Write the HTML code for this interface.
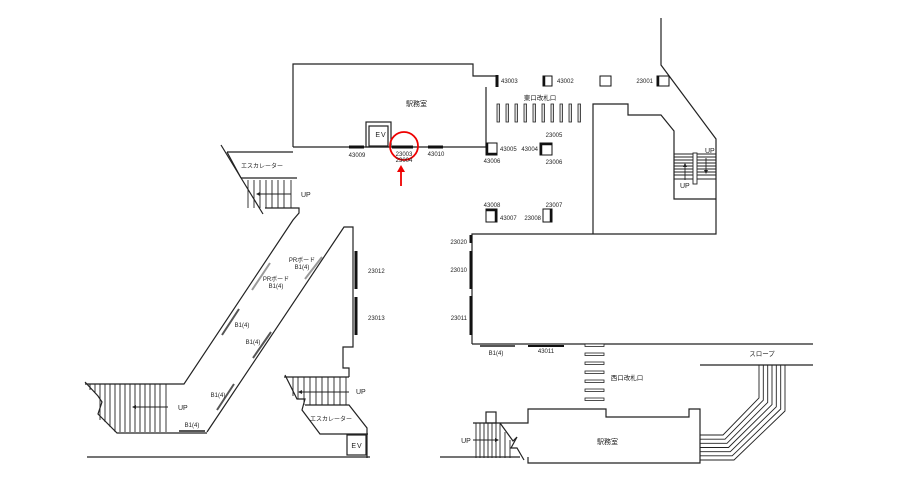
<!DOCTYPE html>
<html><head><meta charset="utf-8"><style>
html,body{margin:0;padding:0;background:#fff;}
svg{display:block;}
text{font-family:"Liberation Sans","Noto Sans CJK JP",sans-serif;fill:#222;}
</style></head><body>
<svg width="919" height="491" viewBox="0 0 919 491" xmlns="http://www.w3.org/2000/svg">
<g fill="none" stroke="#222" stroke-width="1.2">
<polyline points="293,147 293,64 473,64 473,76 497,76"/>
<polyline points="486,87 486,147 293,147"/>
<rect x="366" y="122" width="25" height="25"/>
<rect x="369" y="126" width="19" height="20"/>
<line x1="221" y1="145" x2="263" y2="214"/>
<line x1="227" y1="152" x2="293" y2="152"/>
<line x1="241" y1="178" x2="297" y2="178"/>
<line x1="227" y1="152" x2="241" y2="178"/>
<polyline points="265,208 299,208 299,213 293,220 184,384 85,384"/>
<polyline points="207,432 344,227 353,227 353,347 343,347 343,368 349,368 349,377"/>
<polyline points="85,382 98,396 102,402 98,414 117,433 207,433"/>
<polyline points="284,377 349,377"/>
<polyline points="285,375 297,399 305,399 302,410 320,434 368,434"/>
<polyline points="305,405 349,405 367,428 367,458"/>
<rect x="347" y="435" width="19" height="20"/>
<line x1="87" y1="457" x2="370" y2="457"/>
<polyline points="472,344 472,234 716,234 716,139 661,65 661,18"/>
<line x1="472" y1="344" x2="813" y2="344"/>
<polyline points="593,234 593,104 628,104 628,115 661,115 674,131 674,199 716,199"/>
<line x1="700" y1="365" x2="813" y2="365"/>
<polyline points="473,423 528,423 528,409 606,409 606,417 689,417 689,409 700,409 700,463 528,463 528,457"/>
<line x1="440" y1="457" x2="520" y2="457"/>
<rect x="486" y="412" width="10" height="11"/>
<polyline points="500,423 513,441 517,437 511,448 517,448 524,460"/>
</g>
<g fill="none" stroke="#222" stroke-width="0.9">
<polyline points="759,365 759,398 723,435 700,435"/>
<polyline points="763.3,365 763.3,400.2 725,439.2 700,439.2"/>
<polyline points="767.7,365 767.7,402.4 727,443.3 700,443.3"/>
<polyline points="772,365 772,404.6 728.5,447.5 700,447.5"/>
<polyline points="776.3,365 776.3,406.8 730.3,451.7 700,451.7"/>
<polyline points="780.7,365 780.7,409 732.2,455.8 700,455.8"/>
<polyline points="785,365 785,411 734,460 700,460"/>
</g>
<g stroke="#222" stroke-width="0.9">
<line x1="248" y1="180" x2="248" y2="208"/><line x1="254" y1="180" x2="254" y2="208"/><line x1="260" y1="180" x2="260" y2="208"/><line x1="266" y1="180" x2="266" y2="208"/><line x1="272" y1="180" x2="272" y2="208"/><line x1="278" y1="180" x2="278" y2="208"/><line x1="284" y1="180" x2="284" y2="208"/><line x1="291" y1="180" x2="291" y2="208"/>
<line x1="90" y1="384" x2="90" y2="390"/><line x1="95" y1="384" x2="95" y2="393"/><line x1="100" y1="384" x2="100" y2="420"/><line x1="105" y1="384" x2="105" y2="422"/><line x1="110" y1="384" x2="110" y2="427"/><line x1="115" y1="384" x2="115" y2="432"/><line x1="120" y1="384" x2="120" y2="432"/><line x1="125" y1="384" x2="125" y2="432"/><line x1="130" y1="384" x2="130" y2="432"/><line x1="135" y1="384" x2="135" y2="432"/><line x1="140" y1="384" x2="140" y2="432"/><line x1="145" y1="384" x2="145" y2="432"/><line x1="150" y1="384" x2="150" y2="432"/><line x1="155" y1="384" x2="155" y2="432"/><line x1="160" y1="384" x2="160" y2="432"/><line x1="166" y1="384" x2="166" y2="432"/>
<line x1="293" y1="377" x2="293" y2="396"/><line x1="298" y1="377" x2="298" y2="399"/><line x1="304" y1="377" x2="304" y2="405"/><line x1="310" y1="377" x2="310" y2="405"/><line x1="316" y1="377" x2="316" y2="405"/><line x1="322" y1="377" x2="322" y2="405"/><line x1="328" y1="377" x2="328" y2="405"/><line x1="334" y1="377" x2="334" y2="405"/><line x1="340" y1="377" x2="340" y2="405"/><line x1="346" y1="377" x2="346" y2="405"/>
<line x1="476" y1="423" x2="476" y2="458"/><line x1="480" y1="423" x2="480" y2="458"/><line x1="484" y1="423" x2="484" y2="458"/><line x1="488" y1="423" x2="488" y2="458"/><line x1="492" y1="423" x2="492" y2="458"/><line x1="496" y1="423" x2="496" y2="458"/><line x1="500" y1="423" x2="500" y2="458"/><line x1="505" y1="432" x2="505" y2="458"/><line x1="510" y1="440" x2="510" y2="458"/>
<line x1="674" y1="154" x2="716" y2="154"/><line x1="674" y1="157" x2="716" y2="157"/><line x1="674" y1="160" x2="716" y2="160"/><line x1="674" y1="163" x2="716" y2="163"/><line x1="674" y1="166" x2="716" y2="166"/><line x1="674" y1="169" x2="716" y2="169"/><line x1="674" y1="172" x2="716" y2="172"/><line x1="674" y1="175" x2="716" y2="175"/><line x1="674" y1="179" x2="716" y2="179"/>
<line x1="291" y1="194" x2="258" y2="194"/><line x1="168" y1="407" x2="134" y2="407"/><line x1="349" y1="392" x2="300" y2="392"/><line x1="473" y1="440" x2="497" y2="440"/>
<line x1="685" y1="180" x2="685" y2="165"/><line x1="706" y1="158" x2="706" y2="172"/>
</g>
<rect x="693" y="153" width="4" height="31" fill="#fff" stroke="#222" stroke-width="0.9"/>
<g fill="#222">
<polygon points="256,194 260,192 260,196"/><polygon points="132,407 136,405 136,409"/><polygon points="298,392 302,390 302,394"/><polygon points="499,440 495,438 495,442"/>
<polygon points="685,163 683,167 687,167"/><polygon points="706,174 704,170 708,170"/>
</g>
<g stroke="#111" stroke-width="3">
<line x1="497" y1="75" x2="497" y2="87"/>
<line x1="349" y1="147" x2="364" y2="147"/><line x1="392" y1="147" x2="413" y2="147"/><line x1="428" y1="147" x2="443" y2="147"/>
<line x1="356" y1="251" x2="356" y2="289"/><line x1="356" y1="297" x2="356" y2="335"/>
<line x1="471" y1="235" x2="471" y2="243"/><line x1="471" y1="251" x2="471" y2="289"/><line x1="471" y1="296" x2="471" y2="335"/>
<line x1="528" y1="346" x2="564" y2="346" stroke-width="2"/>
</g>
<g stroke="#555" stroke-width="2">
<line x1="480" y1="346" x2="515" y2="346"/>
<line x1="179" y1="431" x2="205" y2="431"/>
<line x1="222" y1="335" x2="239" y2="309"/><line x1="253" y1="358" x2="271" y2="332"/><line x1="217" y1="410" x2="234" y2="384"/>
</g>
<g stroke="#999" stroke-width="2">
<line x1="252" y1="290" x2="270" y2="263"/><line x1="305" y1="279" x2="322" y2="257"/>
</g>
<g fill="#ddd" stroke="#222" stroke-width="0.8">
<rect x="497" y="104" width="2.5" height="18"/><rect x="506" y="104" width="2.5" height="18"/><rect x="515" y="104" width="2.5" height="18"/><rect x="524" y="104" width="2.5" height="18"/><rect x="533" y="104" width="2.5" height="18"/><rect x="542" y="104" width="2.5" height="18"/><rect x="551" y="104" width="2.5" height="18"/><rect x="560" y="104" width="2.5" height="18"/><rect x="569" y="104" width="2.5" height="18"/><rect x="578" y="104" width="2.5" height="18"/>
<rect x="585" y="344" width="19" height="2.5" fill="#fff"/><rect x="585" y="353" width="19" height="2.5" fill="#fff"/><rect x="585" y="362" width="19" height="2.5" fill="#fff"/><rect x="585" y="371" width="19" height="2.5" fill="#fff"/><rect x="585" y="380" width="19" height="2.5" fill="#fff"/><rect x="585" y="389" width="19" height="2.5" fill="#fff"/><rect x="585" y="398" width="19" height="2.5" fill="#fff"/>
</g>
<g fill="#fff" stroke="#111" stroke-width="1">
<rect x="543" y="76" width="9" height="10"/><rect x="600" y="76" width="11" height="10"/><rect x="657" y="76" width="12" height="10"/>
<rect x="486" y="143" width="11" height="12"/><rect x="540" y="143" width="12" height="12"/>
<rect x="486" y="209" width="11" height="13"/><rect x="543" y="209" width="9" height="13"/>
</g>
<g stroke="#111" stroke-width="2.5">
<line x1="544" y1="76" x2="544" y2="86"/><line x1="658" y1="76" x2="658" y2="86"/>
<line x1="487" y1="143" x2="487" y2="155"/><line x1="486" y1="154" x2="497" y2="154"/>
<line x1="541" y1="143" x2="541" y2="155"/><line x1="540" y1="144" x2="552" y2="144"/>
<line x1="496" y1="209" x2="496" y2="222"/><line x1="486" y1="210" x2="497" y2="210"/>
<line x1="551" y1="209" x2="551" y2="222"/>
</g>
<circle cx="404" cy="146" r="14" fill="none" stroke="#e00" stroke-width="1.8"/>
<line x1="401" y1="186" x2="401" y2="169" stroke="#e00" stroke-width="1.8"/>
<polygon points="401,165 397,172 405,172" fill="#e00"/>
<g font-size="6">
<text x="406" y="106" font-size="7">駅務室</text>
<text x="597" y="444" font-size="7">駅務室</text>
<text x="381" y="137" font-size="7" letter-spacing="1" text-anchor="middle">EV</text>
<text x="357" y="448" font-size="7" letter-spacing="1" text-anchor="middle">EV</text>
<text x="357" y="157" text-anchor="middle">43009</text>
<text x="404" y="156" text-anchor="middle">23003</text>
<text x="404" y="162" text-anchor="middle" fill="#888">23004</text>
<text x="436" y="156" text-anchor="middle">43010</text>
<text x="501" y="83">43003</text><text x="557" y="83">43002</text><text x="653" y="83" text-anchor="end">23001</text>
<text x="540" y="100" font-size="6.5" text-anchor="middle">東口改札口</text>
<text x="500" y="151">43005</text><text x="492" y="163" text-anchor="middle">43006</text>
<text x="554" y="137" text-anchor="middle">23005</text><text x="538" y="151" text-anchor="end">43004</text><text x="554" y="164" text-anchor="middle">23006</text>
<text x="492" y="207" text-anchor="middle">43008</text><text x="500" y="220">43007</text>
<text x="554" y="207" text-anchor="middle">23007</text><text x="541" y="220" text-anchor="end">23008</text>
<text x="705" y="153" font-size="7">UP</text><text x="680" y="188" font-size="7">UP</text>
<text x="262" y="168" text-anchor="middle">エスカレーター</text>
<text x="301" y="197" font-size="7">UP</text>
<text x="178" y="410" font-size="7">UP</text>
<text x="356" y="394" font-size="7">UP</text>
<text x="466" y="443" font-size="7" text-anchor="middle">UP</text>
<text x="331" y="421" text-anchor="middle">エスカレーター</text>
<text x="368" y="273">23012</text><text x="368" y="320">23013</text>
<text x="276" y="281" text-anchor="middle">PRボード</text><text x="276" y="288" text-anchor="middle">B1(4)</text>
<text x="302" y="262" text-anchor="middle">PRボード</text><text x="302" y="269" text-anchor="middle">B1(4)</text>
<text x="242" y="327" text-anchor="middle">B1(4)</text>
<text x="253" y="344" text-anchor="middle">B1(4)</text>
<text x="218" y="397" text-anchor="middle">B1(4)</text>
<text x="192" y="427" text-anchor="middle">B1(4)</text>
<text x="467" y="244" text-anchor="end">23020</text><text x="467" y="272" text-anchor="end">23010</text><text x="467" y="320" text-anchor="end">23011</text>
<text x="496" y="355" text-anchor="middle">B1(4)</text><text x="546" y="353" text-anchor="middle">43011</text>
<text x="627" y="380" font-size="6.5" text-anchor="middle">西口改札口</text>
<text x="762" y="356" font-size="6.5" text-anchor="middle">スロープ</text>
</g>
</svg>
</body></html>
